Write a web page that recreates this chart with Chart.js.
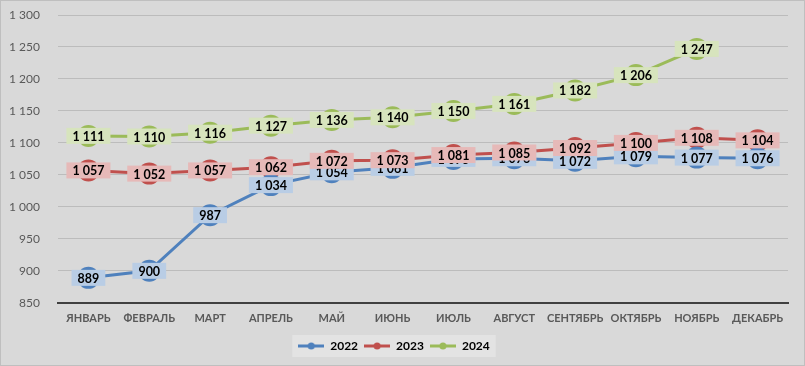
<!DOCTYPE html>
<html><head><meta charset="utf-8">
<script src="https://cdn.jsdelivr.net/npm/chart.js@4/dist/chart.umd.min.js"></script>
<style>html,body{margin:0;padding:0;background:#d9d9d9;}#wrap{width:805px;height:366px;}</style>
</head><body><div id="wrap"><canvas id="c" width="805" height="366"></canvas></div>
<script>
const categories = ['ЯНВАРЬ','ФЕВРАЛЬ','МАРТ','АПРЕЛЬ','МАЙ','ИЮНЬ','ИЮЛЬ','АВГУСТ','СЕНТЯБРЬ','ОКТЯБРЬ','НОЯБРЬ','ДЕКАБРЬ'];
const values2022 = [889,900,987,1034,1054,1061,1075,1076,1072,1079,1077,1076];
const values2023 = [1057,1052,1057,1062,1072,1073,1081,1085,1092,1100,1108,1104];
const values2024 = [1111,1110,1116,1127,1136,1140,1150,1161,1182,1206,1247,null];
const seriesNames = ['2022','2023','2024'];
const yMin = 850, yMax = 1300, yStep = 50;

const FONT = 'Lato,"Open Sans",sans-serif';
const lineColors = ['#4f81bd','#c0504d','#9bbb59'];
const boxColors = ['#b9cde5','#e6b9b8','#d7e4bd'];
const fmt = n => String(n).replace(/\B(?=(\d{3})+(?!\d))/g,' ');

function legendIcon(color){
  const cv = document.createElement('canvas');
  cv.width = 26; cv.height = 10;
  const g = cv.getContext('2d');
  g.strokeStyle = color; g.lineWidth = 3;
  g.beginPath(); g.moveTo(0,5); g.lineTo(26,5); g.stroke();
  g.fillStyle = color; g.beginPath(); g.arc(13,5,3.5,0,Math.PI*2); g.fill();
  return cv;
}

const bgPlugin = {
  id:'bg',
  beforeDraw(chart){
    const c = chart.ctx;
    c.save();
    c.fillStyle = '#d9d9d9';
    c.fillRect(0,0,chart.width,chart.height);
    c.strokeStyle = '#bfbfbf'; c.lineWidth = 1;
    c.strokeRect(0.5,0.5,chart.width-1,chart.height-1);
    const lg = chart.legend;
    if (lg && lg.legendHitBoxes && lg.legendHitBoxes.length){
      const hb = lg.legendHitBoxes;
      const x0 = hb[0].left - 6, x1 = hb[hb.length-1].left + hb[hb.length-1].width + 6;
      c.fillStyle = '#e3e3e3';
      c.fillRect(x0, hb[0].top - 5, x1 - x0, hb[0].height + 10);
    }
    c.restore();
  }
};

const labelPlugin = {
  id:'dlabels',
  afterDatasetsDraw(chart){
    const c = chart.ctx;
    c.save();
    c.font = 'bold 12.5px ' + FONT;
    c.textAlign = 'center'; c.textBaseline = 'middle';
    chart.data.datasets.forEach((ds,i)=>{
      const meta = chart.getDatasetMeta(i);
      meta.data.forEach((pt,j)=>{
        const v = ds.data[j];
        if (v == null) return;
        const t = fmt(v);
        const w = c.measureText(t).width + 12, h = 16;
        c.fillStyle = boxColors[i];
        c.fillRect(pt.x - w/2, pt.y - h/2, w, h);
        c.fillStyle = '#000';
        c.fillText(t, pt.x, pt.y + 1);
      });
    });
    c.restore();
  }
};

const datasets = [values2022, values2023, values2024].map((d,i)=>({
  label: seriesNames[i],
  data: d,
  borderColor: lineColors[i],
  backgroundColor: lineColors[i],
  borderWidth: 3,
  pointRadius: 11,
  pointHoverRadius: 11,
  pointBorderWidth: 0,
  tension: 0,
  spanGaps: false,
  clip: false
}));

new Chart(document.getElementById('c'), {
  type:'line',
  data:{ labels: categories, datasets },
  options:{
    responsive:false, animation:false,
    devicePixelRatio:1,
    layout:{ autoPadding:false, padding:{ left:0, right:17, top:15, bottom:4 } },
    plugins:{
      tooltip:{enabled:false},
      legend:{
        position:'bottom',
        labels:{
          usePointStyle:true,
          pointStyleWidth:26,
          generateLabels(chart){
            return chart.data.datasets.map((ds,i)=>({
              text: ds.label, pointStyle: legendIcon(lineColors[i]),
              fillStyle: lineColors[i], strokeStyle: lineColors[i],
              fontColor:'#000', datasetIndex:i, hidden:false, lineWidth:0
            }));
          },
          color:'#000',
          font:{ family:FONT, size:12, weight:'bold' },
          padding:6, boxHeight:10
        }
      }
    },
    scales:{
      x:{
        offset:true,
        grid:{ display:false, drawTicks:false },
        border:{ display:true, color:'#404040', width:2 },
        ticks:{ color:'#595959', font:{ family:FONT, size:11, weight:'bold' }, padding:9, maxRotation:0, autoSkip:false }
      },
      y:{
        min:yMin, max:yMax,
        afterFit(s){ s.width = 58; s.paddingTop = 0; s.paddingBottom = 0; },
        grid:{ color:'#bcbcbc', lineWidth:1, drawTicks:false },
        border:{ display:false },
        ticks:{ stepSize:yStep, color:'#595959', font:{ family:FONT, size:12 }, padding:18, callback:v=>fmt(v) }
      }
    }
  },
  plugins:[bgPlugin, labelPlugin]
});
</script>
</body></html>
